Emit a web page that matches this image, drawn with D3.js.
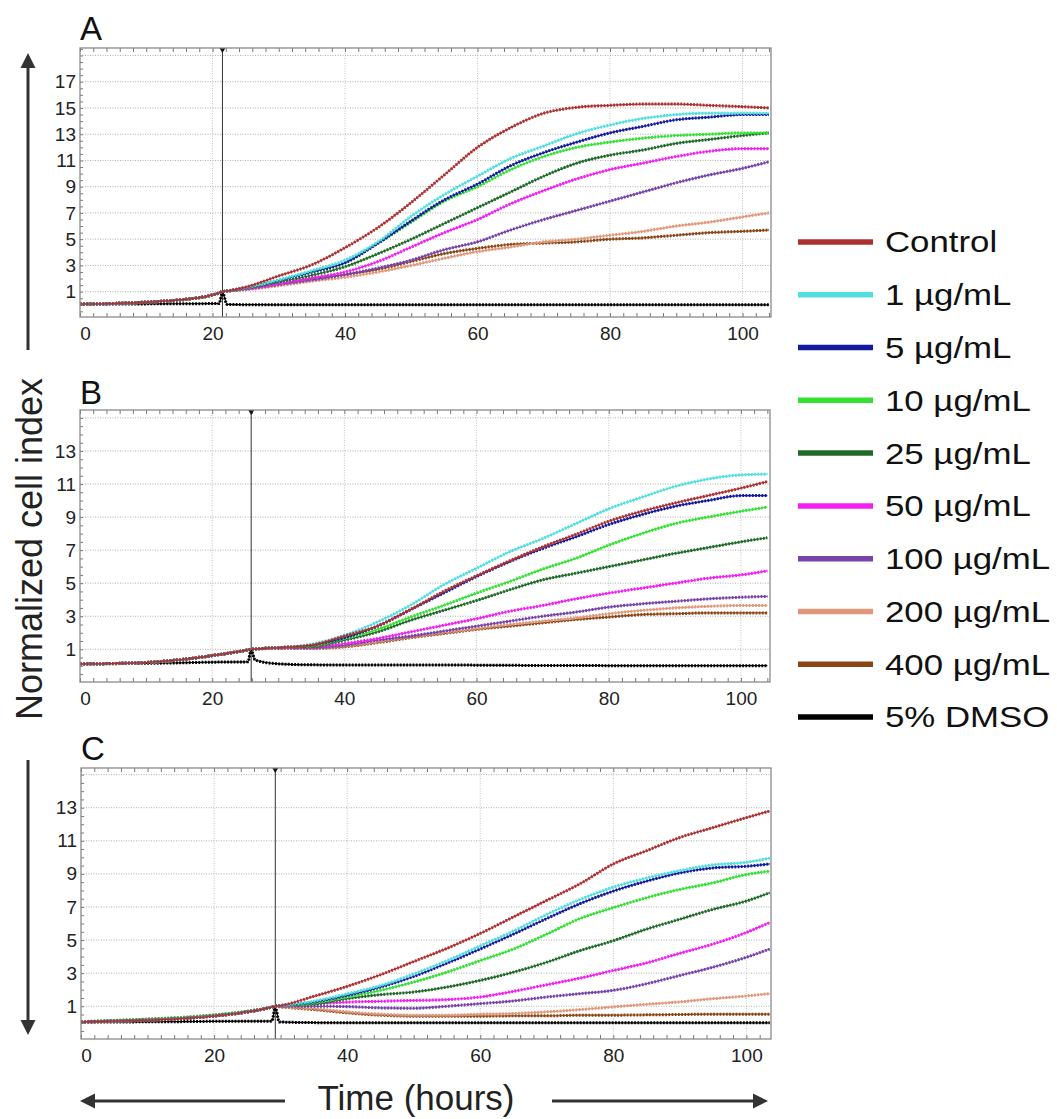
<!DOCTYPE html>
<html>
<head>
<meta charset="utf-8">
<script src="https://cdn.jsdelivr.net/npm/d3@7"></script>
<style>
    body { margin: 0; background: #fff; }
    svg { font-family: Arial, "Liberation Sans", sans-serif; display: block; }
</style>
</head>
<body>
<div id="vis"></div>
<script>
const SERIES_NAMES = ['Control', '1 µg/mL', '5 µg/mL', '10 µg/mL', '25 µg/mL', '50 µg/mL', '100 µg/mL', '200 µg/mL', '400 µg/mL', '5% DMSO']
const SERIES_COLORS = ['#ad3030', '#52dede', '#141a9c', '#34e034', '#1f6a27', '#f21ff2', '#7743a8', '#e0977a', '#8a4516', '#000000']

const X_TICKS = [0, 20, 40, 60, 80, 100]
const A_Y_TICKS = [1, 3, 5, 7, 9, 11, 13, 15, 17]
const A_Y_GRID = [1, 3, 5, 7, 9, 11, 13, 15, 17, 19]
const BC_Y_TICKS = [1, 3, 5, 7, 9, 11, 13]
const BC_Y_GRID = [1, 3, 5, 7, 9, 11, 13, 15]

// treatment time (hours) per panel
const A_TREATMENT = 21.5
const B_TREATMENT = 25.9
const C_TREATMENT = 29.2

// panel A
const A_HOURS = [0, 5, 10, 15, 20, 21, 21.5, 22.2, 25, 30, 35, 40, 45, 50, 55, 60, 65, 70, 75, 80, 85, 90, 95, 100, 104]
const A_VALUES = [
    [0.05, 0.1, 0.2, 0.37, 0.75, 0.9, 1.0, 1.05, 1.35, 2.2, 3.05, 4.35, 5.9, 7.8, 9.9, 12.0, 13.5, 14.6, 15.05, 15.2, 15.3, 15.3, 15.2, 15.1, 15.0],
    [0.05, 0.1, 0.2, 0.37, 0.75, 0.9, 1.0, 1.05, 1.3, 1.9, 2.6, 3.4, 4.8, 6.75, 8.4, 9.8, 11.15, 12.1, 13.05, 13.7, 14.2, 14.5, 14.6, 14.6, 14.6],
    [0.05, 0.1, 0.2, 0.37, 0.75, 0.9, 1.0, 1.05, 1.3, 1.85, 2.5, 3.2, 4.7, 6.4, 8.0, 9.2, 10.6, 11.6, 12.4, 13.1, 13.6, 14.1, 14.3, 14.5, 14.5],
    [0.05, 0.1, 0.2, 0.37, 0.75, 0.9, 1.0, 1.05, 1.3, 1.85, 2.5, 3.2, 4.7, 6.3, 7.9, 9.0, 10.3, 11.3, 12.0, 12.4, 12.7, 12.9, 13.0, 13.1, 13.1],
    [0.05, 0.1, 0.2, 0.37, 0.75, 0.9, 1.0, 1.05, 1.25, 1.75, 2.25, 2.9, 3.9, 5.0, 6.2, 7.4, 8.6, 9.8, 10.8, 11.4, 11.8, 12.3, 12.6, 12.9, 13.1],
    [0.05, 0.1, 0.2, 0.37, 0.75, 0.9, 1.0, 1.05, 1.2, 1.6, 2.05, 2.5, 3.3, 4.4, 5.5, 6.5, 7.7, 8.7, 9.6, 10.3, 10.8, 11.3, 11.7, 11.9, 11.9],
    [0.05, 0.1, 0.2, 0.37, 0.75, 0.9, 1.0, 1.05, 1.2, 1.55, 1.9, 2.3, 2.8, 3.4, 4.2, 4.8, 5.7, 6.5, 7.2, 7.9, 8.6, 9.3, 9.9, 10.4, 10.9],
    [0.05, 0.1, 0.2, 0.37, 0.75, 0.9, 1.0, 1.05, 1.15, 1.45, 1.8, 2.1, 2.5, 3.0, 3.55, 4.05, 4.4, 4.8, 5.0, 5.3, 5.6, 6.0, 6.3, 6.7, 7.0],
    [0.05, 0.1, 0.2, 0.37, 0.75, 0.9, 1.0, 1.05, 1.2, 1.6, 2.0, 2.3, 2.7, 3.3, 3.9, 4.3, 4.6, 4.7, 4.8, 5.0, 5.1, 5.3, 5.5, 5.6, 5.7],
    [0.05, 0.06, 0.07, 0.08, 0.09, 0.09, 0.95, 0.03, 0.01, 0, 0, 0, 0, 0, 0, 0, 0, 0, 0, 0, 0, 0, 0, 0, 0]
]

// panel B
const B_HOURS = [0, 5, 10, 15, 20, 25.4, 25.9, 26.5, 30, 35, 40, 45, 50, 55, 60, 65, 70, 75, 80, 85, 90, 95, 100, 104]
const B_VALUES = [
    [0.12, 0.14, 0.2, 0.36, 0.62, 0.96, 1.0, 1.02, 1.1, 1.25, 1.8, 2.4, 3.4, 4.5, 5.45, 6.35, 7.2, 7.95, 8.75, 9.35, 9.85, 10.3, 10.75, 11.15],
    [0.12, 0.14, 0.2, 0.36, 0.62, 0.96, 1.0, 1.02, 1.1, 1.3, 1.85, 2.65, 3.67, 4.9, 5.9, 6.9, 7.7, 8.6, 9.5, 10.2, 10.85, 11.3, 11.55, 11.6],
    [0.12, 0.14, 0.2, 0.36, 0.62, 0.96, 1.0, 1.02, 1.1, 1.25, 1.7, 2.4, 3.4, 4.4, 5.4, 6.3, 7.1, 7.8, 8.55, 9.15, 9.65, 10.0, 10.3, 10.3],
    [0.12, 0.14, 0.2, 0.36, 0.62, 0.96, 1.0, 1.02, 1.1, 1.2, 1.65, 2.2, 2.95, 3.65, 4.4, 5.1, 5.85, 6.5, 7.3, 8.0, 8.6, 9.0, 9.35, 9.6],
    [0.12, 0.14, 0.2, 0.36, 0.62, 0.96, 1.0, 1.02, 1.1, 1.15, 1.55, 2.05, 2.75, 3.35, 3.95, 4.6, 5.2, 5.6, 6.0, 6.4, 6.8, 7.15, 7.5, 7.75],
    [0.12, 0.14, 0.2, 0.36, 0.62, 0.96, 1.0, 1.02, 1.08, 1.12, 1.35, 1.65, 2.05, 2.45, 2.85, 3.3, 3.65, 4.05, 4.4, 4.7, 5.0, 5.3, 5.5, 5.75],
    [0.12, 0.14, 0.2, 0.36, 0.62, 0.96, 1.0, 1.02, 1.08, 1.08, 1.25, 1.55, 1.8, 2.1, 2.4, 2.7, 3.0, 3.25, 3.55, 3.75, 3.9, 4.05, 4.15, 4.2],
    [0.12, 0.14, 0.2, 0.36, 0.62, 0.96, 1.0, 1.02, 1.05, 1.05, 1.2, 1.45, 1.75, 2.0, 2.25, 2.5, 2.7, 2.9, 3.15, 3.35, 3.5, 3.6, 3.65, 3.65],
    [0.12, 0.14, 0.2, 0.36, 0.62, 0.96, 1.0, 1.02, 1.05, 1.05, 1.15, 1.4, 1.7, 1.95, 2.2, 2.4, 2.6, 2.8, 2.95, 3.1, 3.15, 3.2, 3.2, 3.2],
    [0.12, 0.13, 0.15, 0.18, 0.22, 0.24, 0.95, 0.35, 0.12, 0.06, 0.05, 0.05, 0.05, 0.05, 0.04, 0.03, 0.02, 0.02, 0.01, 0.01, 0.01, 0.01, 0.01, 0.01]
]

// panel C
const C_HOURS = [0, 5, 10, 15, 20, 25, 28.7, 29.2, 29.8, 35, 40, 45, 50, 55, 60, 65, 70, 75, 80, 85, 90, 95, 100, 103.5]
const C_VALUES = [
    [0.05, 0.1, 0.16, 0.25, 0.41, 0.65, 0.95, 1.0, 1.03, 1.6, 2.2, 2.9, 3.7, 4.5, 5.4, 6.4, 7.4, 8.4, 9.6, 10.4, 11.2, 11.8, 12.4, 12.8],
    [0.05, 0.1, 0.17, 0.26, 0.42, 0.65, 0.95, 1.0, 1.03, 1.3, 1.75, 2.25, 2.95, 3.75, 4.65, 5.55, 6.55, 7.45, 8.2, 8.75, 9.2, 9.55, 9.7, 9.95],
    [0.05, 0.1, 0.17, 0.26, 0.42, 0.65, 0.95, 1.0, 1.03, 1.26, 1.66, 2.16, 2.8, 3.6, 4.46, 5.36, 6.3, 7.2, 7.96, 8.56, 9.06, 9.36, 9.46, 9.6],
    [0.06, 0.12, 0.2, 0.3, 0.45, 0.68, 0.95, 1.0, 1.02, 1.2, 1.56, 1.96, 2.46, 3.06, 3.76, 4.46, 5.36, 6.3, 6.96, 7.56, 8.06, 8.46, 8.96, 9.16],
    [0.07, 0.14, 0.22, 0.32, 0.47, 0.7, 0.95, 1.0, 1.02, 1.12, 1.46, 1.7, 1.86, 2.16, 2.56, 3.06, 3.66, 4.36, 4.96, 5.66, 6.26, 6.86, 7.36, 7.86],
    [0.05, 0.1, 0.17, 0.26, 0.42, 0.65, 0.95, 1.0, 1.0, 1.15, 1.25, 1.3, 1.35, 1.4, 1.56, 1.9, 2.3, 2.7, 3.16, 3.62, 4.2, 4.76, 5.46, 6.06],
    [0.05, 0.1, 0.17, 0.26, 0.42, 0.65, 0.95, 1.0, 1.0, 1.0, 0.98, 0.9, 0.88, 1.0, 1.16, 1.32, 1.56, 1.76, 1.96, 2.36, 2.86, 3.36, 3.96, 4.46],
    [0.05, 0.1, 0.16, 0.25, 0.41, 0.65, 0.95, 1.0, 0.98, 0.86, 0.66, 0.52, 0.46, 0.46, 0.52, 0.56, 0.66, 0.8, 0.96, 1.12, 1.26, 1.46, 1.62, 1.76],
    [0.05, 0.1, 0.16, 0.25, 0.41, 0.65, 0.95, 1.0, 0.97, 0.8, 0.6, 0.46, 0.4, 0.4, 0.4, 0.42, 0.42, 0.46, 0.46, 0.48, 0.5, 0.52, 0.52, 0.52],
    [0.05, 0.05, 0.06, 0.07, 0.09, 0.1, 0.1, 0.95, 0.05, 0.01, 0, 0, 0, 0, 0, 0, 0, 0, 0, 0, 0, 0, 0, 0]
]

const PANELS = [
    {letter: 'A', hours: A_HOURS, values: A_VALUES, treat: A_TREATMENT, yTicks: A_Y_TICKS, yGrid: A_Y_GRID,
        box: {x0: 80, x1: 771, y0: 48, y1: 317}, xMax: 104.3, yMin: -0.93, yMax: 19.57, letterY: 40},
    {letter: 'B', hours: B_HOURS, values: B_VALUES, treat: B_TREATMENT, yTicks: BC_Y_TICKS, yGrid: BC_Y_GRID,
        box: {x0: 80, x1: 770, y0: 410, y1: 682}, xMax: 104.4, yMin: -0.98, yMax: 15.48, letterY: 404},
    {letter: 'C', hours: C_HOURS, values: C_VALUES, treat: C_TREATMENT, yTicks: BC_Y_TICKS, yGrid: BC_Y_GRID,
        box: {x0: 81, x1: 771, y0: 768, y1: 1039}, xMax: 103.7, yMin: -0.98, yMax: 15.4, letterY: 760}
]

function renderSvg() {
    return d3.select('#vis')
        .append('svg')
        .attr('width', 1057)
        .attr('height', 1119)
}

function renderPanel(svg, p) {
    let b = p.box
    let x = d3.scaleLinear().domain([0, p.xMax]).range([b.x0, b.x1])
    let y = d3.scaleLinear().domain([p.yMin, p.yMax]).range([b.y1, b.y0])

    let g = svg.append('g')

    g.append('clipPath')
        .attr('id', 'clip-' + p.letter)
        .append('rect')
        .attr('x', b.x0).attr('y', b.y0)
        .attr('width', b.x1 - b.x0).attr('height', b.y1 - b.y0)

    // dotted grid
    g.append('g').selectAll('line')
        .data(p.yGrid)
        .enter().append('line')
        .attr('x1', b.x0).attr('x2', b.x1)
        .attr('y1', d => y(d)).attr('y2', d => y(d))
        .attr('stroke', '#8c8c8c')
        .attr('stroke-width', 0.7)
        .attr('stroke-dasharray', '1 1.5')

    g.append('g').selectAll('line')
        .data(X_TICKS.filter(d => d > 0))
        .enter().append('line')
        .attr('x1', d => x(d)).attr('x2', d => x(d))
        .attr('y1', b.y0).attr('y2', b.y1)
        .attr('stroke', '#b4b4b4')
        .attr('stroke-width', 0.8)
        .attr('stroke-dasharray', '1 1.5')

    // minor ticks on the frame
    let ticks = g.append('g').attr('color', '#777')
    ticks.append('g')
        .attr('transform', `translate(0,${b.y1})`)
        .call(d3.axisBottom(x).tickValues(d3.range(0, p.xMax, 2)).tickSize(-4).tickFormat(''))
    ticks.append('g')
        .attr('transform', `translate(0,${b.y0})`)
        .call(d3.axisTop(x).tickValues(d3.range(0, p.xMax, 2)).tickSize(-4).tickFormat(''))
    ticks.append('g')
        .attr('transform', `translate(${b.x0},0)`)
        .call(d3.axisLeft(y).tickValues(d3.range(-0.5, p.yMax, 0.5)).tickSize(-3).tickFormat(''))
    ticks.selectAll('.domain').remove()

    // treatment marker
    g.append('line')
        .attr('x1', x(p.treat)).attr('x2', x(p.treat))
        .attr('y1', b.y0).attr('y2', b.y1)
        .attr('stroke', '#333')
        .attr('stroke-width', 1)
    g.append('path')
        .attr('d', `M${x(p.treat) - 3},${b.y0} L${x(p.treat) + 3},${b.y0} L${x(p.treat)},${b.y0 + 5} Z`)
        .attr('fill', '#111')

    // series, control drawn last so it sits on top
    let line = d3.line()
        .x(d => x(d[0]))
        .y(d => y(d[1]))
        .curve(d3.curveMonotoneX)

    let series = p.values.map((vals, i) => ({i: i, pts: p.hours.map((h, k) => [h, vals[k]])})).reverse()

    let lines = g.append('g').attr('clip-path', `url(#clip-${p.letter})`)
    series.forEach(s => {
        lines.append('path')
            .attr('d', line(s.pts))
            .attr('fill', 'none')
            .attr('stroke', SERIES_COLORS[s.i])
            .attr('stroke-width', 1.2)
        lines.append('path')
            .attr('d', line(s.pts))
            .attr('fill', 'none')
            .attr('stroke', SERIES_COLORS[s.i])
            .attr('stroke-width', 3)
            .attr('stroke-dasharray', '1.8 1.4')
    })

    // frame
    g.append('rect')
        .attr('x', b.x0).attr('y', b.y0)
        .attr('width', b.x1 - b.x0).attr('height', b.y1 - b.y0)
        .attr('fill', 'none')
        .attr('stroke', '#8a8a8a')
        .attr('stroke-width', 1.3)

    // tick labels
    let yAxis = g.append('g')
        .attr('transform', `translate(${b.x0},0)`)
        .call(d3.axisLeft(y).tickValues(p.yTicks).tickSize(0).tickPadding(4))
    let xAxis = g.append('g')
        .attr('transform', `translate(0,${b.y1})`)
        .call(d3.axisBottom(x).tickValues(X_TICKS).tickSize(0).tickPadding(10))
    xAxis.selectAll('text').attr('dx', d => d === 0 ? 5 : 0)
    for (let a of [xAxis, yAxis]) {
        a.select('.domain').remove()
        a.selectAll('text')
            .attr('font-size', 19)
            .attr('font-family', 'Arial, "Liberation Sans", sans-serif')
            .attr('fill', '#222')
    }

    g.append('text')
        .attr('x', b.x0)
        .attr('y', p.letterY)
        .attr('font-size', 33)
        .attr('fill', '#111')
        .text(p.letter)
}

function renderArrow(svg, x1, y1, x2, y2) {
    let angle = Math.atan2(y2 - y1, x2 - x1)
    let len = 15, half = 7.5
    let bx = x2 - len * Math.cos(angle), by = y2 - len * Math.sin(angle)
    svg.append('line')
        .attr('x1', x1).attr('y1', y1)
        .attr('x2', bx).attr('y2', by)
        .attr('stroke', '#333')
        .attr('stroke-width', 3)
    let px = -Math.sin(angle) * half, py = Math.cos(angle) * half
    svg.append('path')
        .attr('d', `M${x2},${y2} L${bx + px},${by + py} L${bx - px},${by - py} Z`)
        .attr('fill', '#333')
}

function renderDecorations(svg) {
    svg.append('text')
        .attr('transform', 'translate(42,549) rotate(-90)')
        .attr('text-anchor', 'middle')
        .attr('font-size', 36)
        .attr('fill', '#222')
        .text('Normalized cell index')

    svg.append('text')
        .attr('x', 416)
        .attr('y', 1110)
        .attr('text-anchor', 'middle')
        .attr('font-size', 35)
        .attr('fill', '#222')
        .text('Time (hours)')

    renderArrow(svg, 28, 350, 28, 53)
    renderArrow(svg, 28, 760, 28, 1035)
    renderArrow(svg, 285, 1101, 80, 1101)
    renderArrow(svg, 552, 1101, 768, 1101)
}

function renderLegend(svg) {
    let row = d3.scalePoint()
        .domain(SERIES_NAMES)
        .range([242, 717])

    let items = svg.append('g')
        .selectAll('g')
        .data(SERIES_NAMES)
        .enter().append('g')
        .attr('transform', d => `translate(0,${row(d)})`)

    items.append('line')
        .attr('x1', 798).attr('x2', 873)
        .attr('stroke', (d, i) => SERIES_COLORS[i])
        .attr('stroke-width', 5.5)

    items.append('text')
        .attr('transform', 'translate(885,0) scale(1.2,1)')
        .attr('dy', '0.36em')
        .attr('font-size', 29)
        .attr('fill', '#111')
        .text(d => d)
}

let svg = renderSvg()
PANELS.forEach(p => renderPanel(svg, p))
renderDecorations(svg)
renderLegend(svg)
</script>
</body>
</html>
